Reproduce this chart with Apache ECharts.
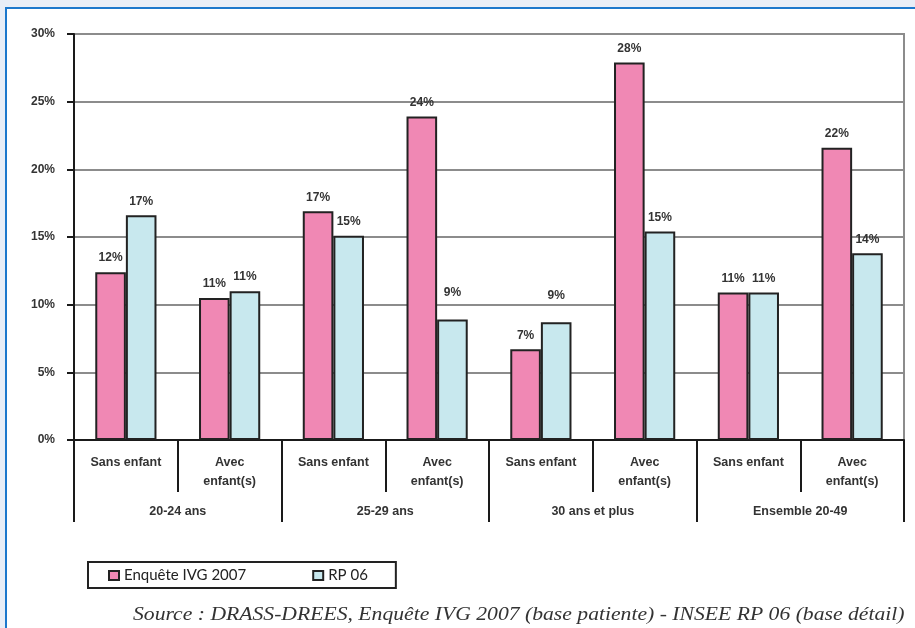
<!DOCTYPE html>
<html>
<head>
<meta charset="utf-8">
<script src="https://cdn.jsdelivr.net/npm/echarts@6/dist/echarts.min.js"></script>
<style>
  html, body { margin: 0; padding: 0; background: #e8eef7; }
  #chart { width: 915px; height: 628px; }
</style>
</head>
<body>
<div id="chart"></div>
<script>
// Sub-categories (inner axis) and age groups (outer axis)
const subCategories = [
  'Sans enfant', 'Avec\nenfant(s)',
  'Sans enfant', 'Avec\nenfant(s)',
  'Sans enfant', 'Avec\nenfant(s)',
  'Sans enfant', 'Avec\nenfant(s)'
];
const ageGroups = ['20-24 ans', '25-29 ans', '30 ans et plus', 'Ensemble 20-49'];

// Shares in percent
const enqueteIVG2007 = [12.4, 10.5, 16.9, 23.9, 6.7, 27.9, 10.9, 21.6];
const rp06 = [16.6, 11.0, 15.1, 8.9, 8.7, 15.4, 10.9, 13.8];

const yTicks = { min: 0, max: 30, interval: 5 };

const seriesNames = ['Enquête IVG 2007', 'RP 06'];
const sourceText = 'Source : DRASS-DREES, Enquête IVG 2007 (base patiente) - INSEE RP 06 (base détail)';

function boldFont(size) {
  return {
    fontFamily: 'Liberation Sans, Arial, sans-serif',
    fontWeight: 'bold',
    fontSize: size,
    color: '#333'
  };
}

// Short bars whose label sits further above the bar top
function buildData(values, raised) {
  return values.map((v, i) => raised.includes(i)
    ? { value: v, label: { distance: 21 } }
    : v);
}

const chart = echarts.init(document.getElementById('chart'));

chart.setOption({
  animation: false,
  backgroundColor: '#e8eef7',
  graphic: [
    {
      type: 'rect',
      z: -10,
      shape: { x: 6, y: 8, width: 960, height: 700 },
      style: { fill: '#ffffff', stroke: '#1c78cc', lineWidth: 2 }
    },
    {
      type: 'text',
      x: 133,
      y: 0,
      scaleX: 1.14,
      style: {
        x: 0,
        y: 605,
        text: sourceText,
        verticalAlign: 'top',
        font: 'italic 19px "Liberation Serif", "Times New Roman", serif',
        fill: '#333'
      }
    }
  ],
  grid: {
    left: 74,
    right: 11,
    top: 34,
    bottom: 188,
    show: true,
    backgroundColor: '#ffffff',
    borderColor: '#8c8c8c',
    borderWidth: 2
  },
  legend: {
    left: 88,
    top: 562,
    orient: 'horizontal',
    itemWidth: 10,
    itemHeight: 9,
    itemGap: 66,
    padding: [6, 28, 5, 20],
    borderColor: '#222',
    borderWidth: 2,
    icon: 'rect',
    textStyle: {
      fontFamily: 'Lato, "Open Sans", sans-serif',
      fontSize: 15,
      color: '#222'
    },
    data: seriesNames
  },
  xAxis: [
    {
      type: 'category',
      data: subCategories,
      position: 'bottom',
      axisLine: { lineStyle: { color: '#1a1a1a', width: 2 } },
      axisTick: { show: true, interval: 0, length: 52, lineStyle: { color: '#1a1a1a', width: 2 } },
      axisLabel: Object.assign({ interval: 0, margin: 13, lineHeight: 19, verticalAlign: 'top' }, boldFont(12.5))
    },
    {
      type: 'category',
      data: ageGroups,
      position: 'bottom',
      offset: 0,
      axisLine: { show: false },
      axisTick: { show: true, interval: 0, length: 82, lineStyle: { color: '#1a1a1a', width: 2 } },
      axisLabel: Object.assign({ interval: 0, margin: 65, verticalAlign: 'top' }, boldFont(12.5))
    }
  ],
  yAxis: {
    type: 'value',
    min: yTicks.min,
    max: yTicks.max,
    interval: yTicks.interval,
    axisLine: { show: true, lineStyle: { color: '#1a1a1a', width: 2 } },
    axisTick: { show: true, length: 7, lineStyle: { color: '#1a1a1a', width: 2 } },
    splitLine: { lineStyle: { color: '#8c8c8c', width: 2 } },
    axisLabel: Object.assign({ margin: 19, formatter: '{value}%' }, boldFont(12))
  },
  series: [
    {
      name: seriesNames[0],
      type: 'bar',
      xAxisIndex: 0,
      barGap: '0%',
      barCategoryGap: '41%',
      itemStyle: { color: '#f088b4', borderColor: '#222', borderWidth: 2 },
      label: Object.assign({
        show: true, position: 'top', distance: 8,
        formatter: p => Math.round(p.value) + '%'
      }, boldFont(12)),
      data: buildData(enqueteIVG2007, [])
    },
    {
      name: seriesNames[1],
      type: 'bar',
      xAxisIndex: 0,
      itemStyle: { color: '#c8e8ee', borderColor: '#222', borderWidth: 2 },
      label: Object.assign({
        show: true, position: 'top', distance: 8,
        formatter: p => Math.round(p.value) + '%'
      }, boldFont(12)),
      data: buildData(rp06, [3, 4])
    }
  ]
});
</script>
</body>
</html>
